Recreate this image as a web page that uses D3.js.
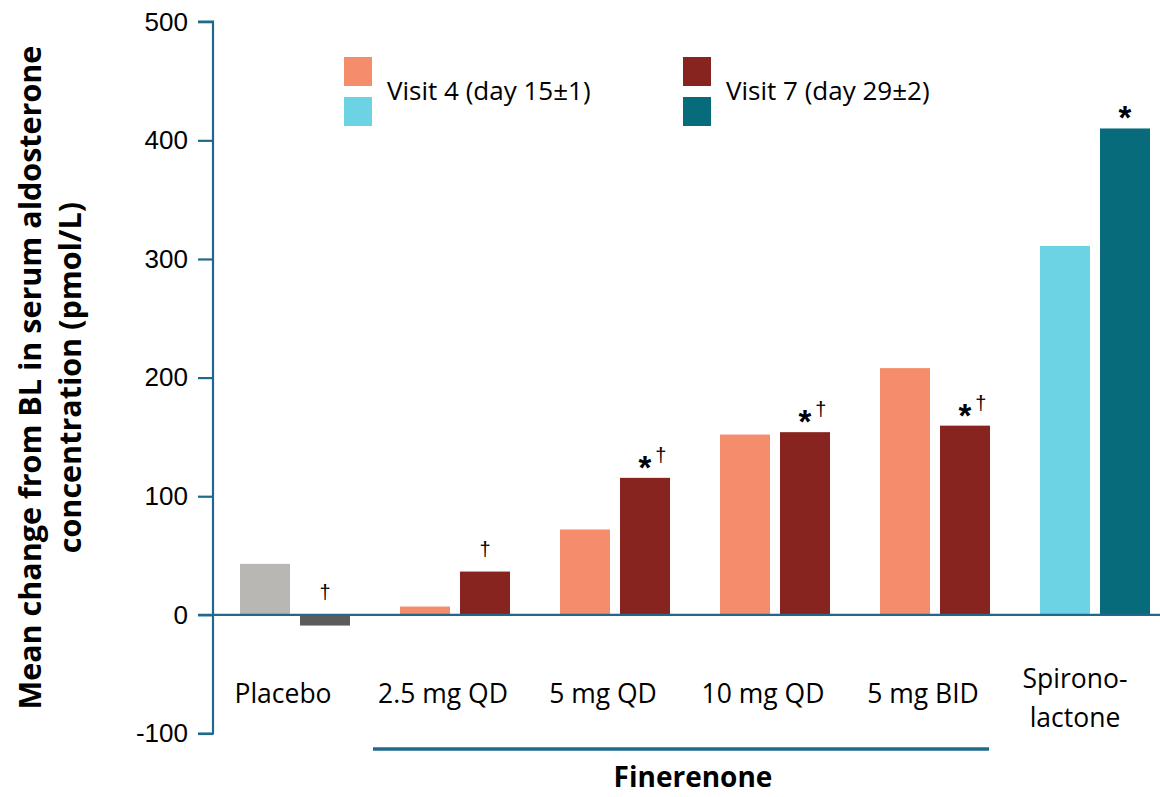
<!DOCTYPE html>
<html>
<head>
<meta charset="utf-8">
<script src="https://cdn.jsdelivr.net/npm/d3@7"></script>
<style>
  html, body { margin: 0; padding: 0; background: #fff; }
  svg { display: block; }
</style>
</head>
<body>
<div id="chart"></div>
<script>
// ------------------------------------------------------------
// Data
// ------------------------------------------------------------
const categories = ["Placebo", "2.5 mg QD", "5 mg QD", "10 mg QD", "5 mg BID", "Spirono-\nlactone"];
const visit4 = [43, 7, 72, 152, 208, 311];
const visit7 = [-9, 36.5, 115.5, 154, 159.5, 410];
const visit4Marks = ["", "", "", "", "", ""];
const visit7Marks = ["†", "†", "*†", "*†", "*†", "*"];
const yTicks = [-100, 0, 100, 200, 300, 400, 500];
const legendLabels = ["Visit 4 (day 15±1)", "Visit 7 (day 29±2)"];

// colour per category: [visit 4, visit 7]
const barColors = [
  ["#b8b7b3", "#5b5b5b"],
  ["#f58c6b", "#87241f"],
  ["#f58c6b", "#87241f"],
  ["#f58c6b", "#87241f"],
  ["#f58c6b", "#87241f"],
  ["#6bd3e3", "#086b7c"]
];

// ------------------------------------------------------------
// Chart setup
// ------------------------------------------------------------
const width = 1160, height = 797;
const axisColor = "#1f6a8c";
const textFont = "'Open Sans', 'Noto Sans', sans-serif";
const numFont = "'Liberation Sans', Arial, sans-serif";

const svg = d3.select("#chart").append("svg")
  .attr("width", width)
  .attr("height", height);

const y = d3.scaleLinear().domain([-100, 500]).range([733.5, 21.7]);

const x0 = d3.scaleBand()
  .domain(d3.range(categories.length))
  .range([215, 1175])
  .padding(0);

const x1 = d3.scaleBand()
  .domain([0, 1])
  .range([x0.bandwidth() / 2 - 55, x0.bandwidth() / 2 + 55])
  .paddingInner(1 / 6)
  .paddingOuter(0);

// Y axis
const yAxis = svg.append("g")
  .attr("transform", "translate(213,0)")
  .call(d3.axisLeft(y).tickValues(yTicks).tickSize(15).tickPadding(10)
    .tickFormat(d => String(d)));

yAxis.select(".domain").attr("stroke", axisColor).attr("stroke-width", 2.2)
  .attr("d", `M-15,${y(500)}H0V${y(-100)}H-15`);
yAxis.selectAll(".tick line").attr("stroke", axisColor).attr("stroke-width", 2.2);
yAxis.selectAll(".tick text")
  .attr("font-family", numFont)
  .attr("font-size", 26)
  .attr("fill", "#000");

// Y title
const yTitle = svg.append("text")
  .attr("transform", `translate(0,${y(200) + 0}) rotate(-90)`)
  .attr("text-anchor", "middle")
  .attr("font-family", textFont)
  .attr("font-weight", 700)
  .attr("font-size", 30.5)
  .attr("fill", "#000");
yTitle.append("tspan").attr("x", 0).attr("y", 41).text("Mean change from BL in serum aldosterone");
yTitle.append("tspan").attr("x", 0).attr("y", 81).text("concentration (pmol/L)");

// Bars
const groups = svg.selectAll(".group")
  .data(categories)
  .join("g")
  .attr("class", "group")
  .attr("transform", (d, i) => `translate(${x0(i)},0)`);

groups.each(function(cat, i) {
  const g = d3.select(this);
  [visit4[i], visit7[i]].forEach((v, j) => {
    g.append("rect")
      .attr("x", x1(j))
      .attr("width", x1.bandwidth())
      .attr("y", y(Math.max(v, 0)))
      .attr("height", Math.abs(y(v) - y(0)))
      .attr("fill", barColors[i][j]);

    const mark = (j === 0 ? visit4Marks : visit7Marks)[i];
    if (mark) {
      const top = y(Math.max(v, 0));
      const t = g.append("text")
        .attr("x", x1(j) + x1.bandwidth() / 2)
        .attr("text-anchor", "middle")
        .attr("font-family", numFont)
        .attr("fill", "#000");
      mark.split("").forEach(ch => {
        if (ch === "*") {
          t.append("tspan").attr("y", top + 1).attr("font-size", 33)
            .attr("font-weight", 700).text("*");
        } else {
          t.append("tspan").attr("y", top - 16).attr("font-size", 20)
            .attr("dx", mark.length > 1 ? 3 : 0).text(ch);
        }
      });
    }
  });
});

// zero line across the plot
svg.append("line")
  .attr("x1", 198).attr("x2", width)
  .attr("y1", y(0)).attr("y2", y(0))
  .attr("stroke", axisColor)
  .attr("stroke-width", 2.2);

// Category labels
svg.selectAll(".cat-label")
  .data(categories)
  .join("text")
  .attr("class", "cat-label")
  .attr("text-anchor", "middle")
  .attr("font-family", textFont)
  .attr("font-size", 26.5)
  .attr("fill", "#000")
  .each(function(d, i) {
    const lines = d.split("\n");
    const cx = x0(i) + x0.bandwidth() / 2 - (lines.length > 1 ? 20 : 12);
    const startY = lines.length > 1 ? 688 : 703;
    lines.forEach((ln, k) => {
      d3.select(this).append("tspan")
        .attr("x", cx)
        .attr("y", startY + k * 39)
        .text(ln);
    });
  });

// Finerenone bracket
svg.append("line")
  .attr("x1", x0(1) + x0.bandwidth() / 2 - 82)
  .attr("x2", x0(4) + x0.bandwidth() / 2 + 54)
  .attr("y1", 749).attr("y2", 749)
  .attr("stroke", axisColor)
  .attr("stroke-width", 3.5);

svg.append("text")
  .attr("x", (x0(1) + x0(4) + x0.bandwidth()) / 2 - 2)
  .attr("y", 787)
  .attr("text-anchor", "middle")
  .attr("font-family", textFont)
  .attr("font-weight", 700)
  .attr("font-size", 28)
  .attr("fill", "#000")
  .text("Finerenone");

// Legend
const legendX = [344, 683];
legendLabels.forEach((lab, j) => {
  const lg = svg.append("g").attr("transform", `translate(${legendX[j]},57)`);
  lg.append("rect").attr("x", 0).attr("y", 0).attr("width", 28).attr("height", 29)
    .attr("fill", barColors[1][j]);
  lg.append("rect").attr("x", 0).attr("y", 40).attr("width", 28).attr("height", 29)
    .attr("fill", barColors[5][j]);
  lg.append("text")
    .attr("x", 43).attr("y", 43)
    .attr("font-family", textFont)
    .attr("font-size", 26)
    .attr("fill", "#000")
    .text(lab);
});
</script>
</body>
</html>
